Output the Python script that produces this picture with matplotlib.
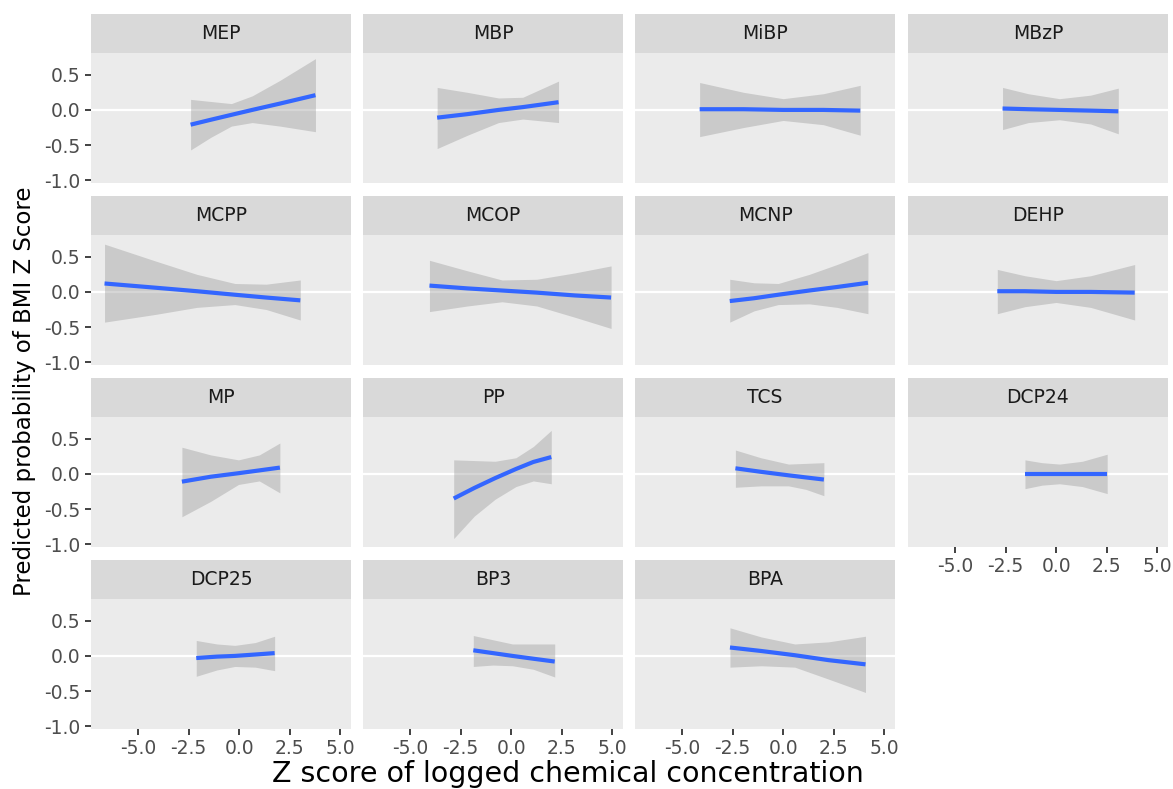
import numpy as np
import matplotlib
matplotlib.use("Agg")
import matplotlib.pyplot as plt

plt.rcParams['font.family'] = ['DejaVu Sans']
plt.rcParams['axes.unicode_minus'] = False

# facet order (row by row)
panel_names = ['MEP', 'MBP', 'MiBP', 'MBzP',
               'MCPP', 'MCOP', 'MCNP', 'DEHP',
               'MP', 'PP', 'TCS', 'DCP24',
               'DCP25', 'BP3', 'BPA']

# read-off points: x, fitted value, lower and upper band
x_vals = [
    [-2.40, -1.40, -0.38, 0.65, 2.02, 3.78],
    [-3.66, -2.16, -0.62, 0.58, 2.35],
    [-4.13, -1.95, 0.00, 1.99, 3.82],
    [-2.65, -1.37, 0.17, 1.71, 3.08],
    [-6.66, -4.14, -2.09, -0.21, 1.34, 3.03],
    [-4.04, -2.16, -0.45, 1.27, 3.15, 4.95],
    [-2.64, -1.44, -0.24, 1.30, 2.67, 4.20],
    [-2.91, -1.54, 0.00, 1.71, 3.89],
    [-2.83, -1.40, -0.03, 1.00, 2.02],
    [-2.84, -1.82, -0.79, 0.24, 1.10, 1.99],
    [-2.36, -1.10, 0.27, 1.13, 2.02],
    [-1.54, -0.70, 0.17, 1.30, 2.53],
    [-2.12, -1.10, -0.21, 0.80, 1.76],
    [-1.87, -0.90, 0.07, 1.10, 2.16],
    [-2.63, -1.08, 0.58, 2.25, 4.08],
]
fit_vals = [
    [-0.21, -0.14, -0.07, 0.00, 0.09, 0.21],
    [-0.11, -0.06, 0.00, 0.04, 0.11],
    [0.01, 0.01, 0.00, 0.00, -0.01],
    [0.02, 0.01, 0.00, -0.01, -0.02],
    [0.12, 0.06, 0.01, -0.04, -0.08, -0.12],
    [0.09, 0.05, 0.02, -0.01, -0.05, -0.08],
    [-0.13, -0.09, -0.04, 0.02, 0.07, 0.13],
    [0.01, 0.01, 0.00, 0.00, -0.01],
    [-0.11, -0.04, 0.01, 0.05, 0.09],
    [-0.35, -0.20, -0.06, 0.07, 0.17, 0.24],
    [0.08, 0.03, -0.02, -0.05, -0.08],
    [0.00, 0.00, 0.00, 0.00, 0.00],
    [-0.03, -0.01, 0.00, 0.02, 0.04],
    [0.08, 0.04, 0.00, -0.04, -0.08],
    [0.12, 0.07, 0.01, -0.06, -0.12],
]
lower_vals = [
    [-0.57, -0.39, -0.23, -0.18, -0.23, -0.31],
    [-0.55, -0.36, -0.18, -0.13, -0.18],
    [-0.38, -0.25, -0.15, -0.21, -0.36],
    [-0.28, -0.18, -0.14, -0.20, -0.34],
    [-0.43, -0.32, -0.22, -0.18, -0.25, -0.40],
    [-0.28, -0.20, -0.14, -0.20, -0.36, -0.52],
    [-0.43, -0.27, -0.18, -0.17, -0.22, -0.31],
    [-0.31, -0.21, -0.15, -0.22, -0.40],
    [-0.61, -0.39, -0.15, -0.10, -0.27],
    [-0.92, -0.60, -0.36, -0.18, -0.10, -0.14],
    [-0.19, -0.17, -0.17, -0.22, -0.31],
    [-0.21, -0.16, -0.14, -0.18, -0.28],
    [-0.29, -0.20, -0.15, -0.16, -0.21],
    [-0.15, -0.13, -0.14, -0.19, -0.30],
    [-0.16, -0.14, -0.16, -0.33, -0.52],
]
upper_vals = [
    [0.15, 0.12, 0.09, 0.20, 0.42, 0.73],
    [0.32, 0.25, 0.17, 0.18, 0.41],
    [0.39, 0.25, 0.16, 0.23, 0.35],
    [0.32, 0.23, 0.16, 0.21, 0.31],
    [0.68, 0.44, 0.25, 0.12, 0.11, 0.17],
    [0.45, 0.30, 0.17, 0.18, 0.27, 0.37],
    [0.18, 0.13, 0.12, 0.25, 0.39, 0.56],
    [0.32, 0.23, 0.16, 0.23, 0.39],
    [0.38, 0.27, 0.20, 0.27, 0.44],
    [0.20, 0.19, 0.18, 0.23, 0.39, 0.62],
    [0.34, 0.23, 0.14, 0.15, 0.16],
    [0.20, 0.16, 0.14, 0.18, 0.28],
    [0.22, 0.17, 0.15, 0.19, 0.28],
    [0.29, 0.23, 0.17, 0.17, 0.17],
    [0.40, 0.27, 0.17, 0.20, 0.28],
]

x_ticks = [-5.0, -2.5, 0.0, 2.5, 5.0]
y_ticks = [-1.0, -0.5, 0.0, 0.5]

W, H = 1173, 789
fig = plt.figure(figsize=(W / 100, H / 100), dpi=100)

col_left = [91, 363, 635, 908]
row_top = [14, 196, 378, 560]
pw, sh, ph = 260, 39, 130

def fr(x, y, w, h):
    return [x / W, 1 - (y + h) / H, w / W, h / H]

for i, name in enumerate(panel_names):
    r, c = divmod(i, 4)
    # strip
    sax = fig.add_axes(fr(col_left[c], row_top[r], pw, sh))
    sax.set_facecolor('#D9D9D9')
    sax.set_xticks([]); sax.set_yticks([])
    for s in sax.spines.values():
        s.set_visible(False)
    sax.text(0.5, 0.5, name, ha='center', va='center', fontsize=13.5, color='#1A1A1A',
             transform=sax.transAxes)

    ax = fig.add_axes(fr(col_left[c], row_top[r] + sh, pw, ph))
    ax.set_facecolor('#EBEBEB')
    for s in ax.spines.values():
        s.set_visible(False)
    ax.axhline(0, color='white', lw=1.6, zorder=1)
    ax.fill_between(x_vals[i], lower_vals[i], upper_vals[i], color='#999999', alpha=0.4,
                    lw=0, zorder=2)
    ax.plot(x_vals[i], fit_vals[i], color='#3366FF', lw=3, zorder=3, solid_capstyle='butt')
    ax.set_xlim(-7.33, 5.54)
    ax.set_ylim(-1.04, 0.81)
    ax.set_xticks(x_ticks)
    ax.set_yticks(y_ticks)
    ax.tick_params(colors='#333333', labelcolor='#4D4D4D', labelsize=13.5, length=4.5,
                   width=1.3, pad=3)
    show_x = (r == 3) or (r == 2 and c == 3)
    if show_x:
        ax.set_xticklabels(['%.1f' % t for t in x_ticks])
    else:
        ax.tick_params(axis='x', length=0, labelbottom=False)
    if c == 0:
        ax.set_yticklabels(['%.1f' % t for t in y_ticks])
    else:
        ax.tick_params(axis='y', length=0, labelleft=False)

fig.text(568 / W, 1 - 774 / H, 'Z score of logged chemical concentration', ha='center',
         va='center', fontsize=20.5, color='black')
fig.text(25 / W, 1 - 391 / H, 'Predicted probability of BMI Z Score', ha='center',
         va='center', rotation=90, fontsize=16.5, color='black')

fig.savefig('out.png', dpi=100)
